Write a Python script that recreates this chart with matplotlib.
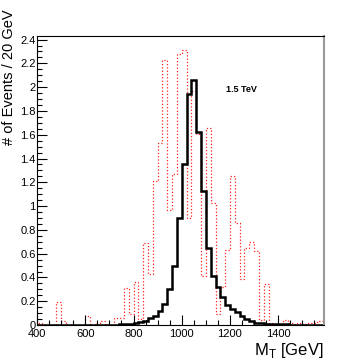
import numpy as np
import matplotlib.pyplot as plt
from matplotlib.ticker import MultipleLocator, FormatStrFormatter

plt.rcParams['font.family'] = ['Liberation Sans', 'DejaVu Sans']

# 20 GeV bins from 400 to 1600
bin_edges = np.arange(400, 1620, 20)

# signal (black, solid)
signal = [0.001, 0.001, 0.001, 0.001, 0.001, 0.001, 0.001, 0.001, 0.001, 0.001,
          0.001, 0.001, 0.001, 0.001, 0.001, 0.002, 0.003, 0.005, 0.008, 0.012,
          0.018, 0.025, 0.036, 0.056, 0.08, 0.12, 0.18, 0.30, 0.50, 0.90,
          1.35, 1.94, 2.06, 1.62, 1.13, 0.65, 0.41, 0.32, 0.24, 0.17,
          0.135, 0.11, 0.08, 0.05, 0.03, 0.02, 0.015, 0.012, 0.01, 0.008,
          0.006, 0.005, 0.004, 0.004, 0.003, 0.003, 0.002, 0.002, 0.002, 0.002]

# comparison (red, dotted)
other = [0.02, 0.0, 0.0, 0.0, 0.19, 0.03, 0.0, 0.0, 0.0, 0.0,
         0.075, 0.0, 0.02, 0.03, 0.0, 0.0, 0.06, 0.06, 0.31, 0.09,
         0.36, 0.05, 0.69, 0.43, 1.21, 1.53, 2.23, 0.97, 1.27, 2.28,
         2.31, 0.90, 1.97, 1.61, 0.41, 1.66, 1.03, 0.09, 0.32, 0.63,
         1.25, 0.86, 0.39, 0.65, 0.70, 0.62, 0.04, 0.345, 0.02, 0.0,
         0.005, 0.04, 0.02, 0.01, 0.015, 0.01, 0.015, 0.02, 0.03, 0.03]

fig = plt.figure(figsize=(3.6, 3.64), dpi=100)
ax = fig.add_axes([0.103, 0.107, 0.797, 0.794])

ax.stairs(other, bin_edges, color='#ff2020', linestyle=':', linewidth=0.9)
ax.stairs(signal, bin_edges, color='black', linewidth=1.8)

ax.set_xlim(400, 1590)
ax.set_ylim(0, 2.43)

ax.xaxis.set_major_locator(MultipleLocator(200))
ax.xaxis.set_minor_locator(MultipleLocator(50))
ax.yaxis.set_major_locator(MultipleLocator(0.2))
ax.yaxis.set_minor_locator(MultipleLocator(0.05))
ax.yaxis.set_major_formatter(FormatStrFormatter('%g'))

ax.tick_params(which='both', direction='in', top=False, right=False,
               labelsize=8, width=0.8)
ax.tick_params(which='major', length=7)
ax.tick_params(which='minor', length=3.5)
ax.tick_params(axis='x', pad=3)
ax.tick_params(axis='y', pad=1)

for s in ['left', 'bottom', 'top']:
    ax.spines[s].set_linewidth(0.8)
ax.spines['right'].set_color('#999999')
ax.spines['right'].set_linewidth(1.5)

ax.text(1184, 1.98, '1.5 TeV', fontsize=6.5, fontweight='bold', va='center')

fig.text(0.025, 0.975, '# of Events / 20 GeV', fontsize=10.5, rotation=90,
         ha='center', va='top')
ax.set_xlabel(r'M$_{\mathregular{T}}$ [GeV]', fontsize=12, loc='right', labelpad=1)

fig.savefig('out.png', dpi=100)
